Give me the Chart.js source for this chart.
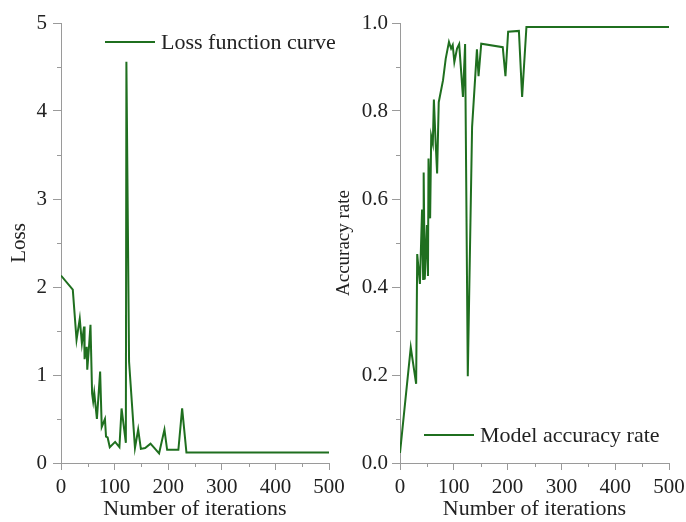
<!DOCTYPE html>
<html>
<head>
<meta charset="utf-8">
<script src="https://cdn.jsdelivr.net/npm/chart.js@4"></script>
<style>
  html, body { margin: 0; padding: 0; background: #fff; }
  body { width: 686px; height: 522px; position: relative; overflow: hidden; }
  canvas { position: absolute; top: 0; }
  #lossChart { left: 0; }
  #accChart { left: 325px; }
</style>
</head>
<body>
<canvas id="lossChart" width="352" height="522"></canvas>
<canvas id="accChart" width="361" height="522"></canvas>
<script>
// loss curve (left panel)
const lossIter = [0, 22, 29, 35, 39, 43, 44, 48, 49, 52, 55, 58, 60, 62, 67, 73, 76, 82, 84, 87,
    91, 101, 109, 113, 121, 122, 127, 138, 144, 149, 157, 167, 183, 193, 198, 219, 226, 234, 500];
const lossVal = [2.13, 1.97, 1.40, 1.64, 1.36, 1.55, 1.18, 1.32, 1.06, 1.30, 1.57, 0.79, 0.70, 0.80, 0.50, 1.04, 0.41, 0.50, 0.30, 0.29,
    0.18, 0.24, 0.18, 0.62, 0.23, 4.56, 1.15, 0.17, 0.38, 0.16, 0.17, 0.22, 0.11, 0.38, 0.15, 0.15, 0.62, 0.12, 0.12];

// accuracy curve (right panel)
const accIter = [0, 20, 30, 32, 37, 41, 43, 44, 46, 50, 52, 53, 56, 58, 61, 63, 66, 69, 72, 80,
    85, 91, 95, 98, 101, 106, 110, 117, 121, 126, 134, 143, 146, 151, 191, 196, 201, 221, 227, 235, 500];
const accVal = [0.023, 0.263, 0.18, 0.475, 0.407, 0.576, 0.418, 0.66, 0.417, 0.541, 0.425, 0.692, 0.556, 0.743, 0.726, 0.826, 0.734, 0.658, 0.82, 0.87,
    0.919, 0.957, 0.942, 0.95, 0.911, 0.942, 0.952, 0.832, 0.952, 0.197, 0.764, 0.94, 0.879, 0.953, 0.945, 0.879, 0.98, 0.982, 0.832, 0.991, 0.991];

const xTicks = [0, 100, 200, 300, 400, 500];
const lossTicks = [0, 1, 2, 3, 4, 5];
const accTicks = [0, 0.2, 0.4, 0.6, 0.8, 1.0];

const LINE_COLOR = "#1f6f1f";
const AXIS_COLOR = "#9a9a9a";
const SERIF = "'Liberation Serif', 'Times New Roman', serif";

Chart.defaults.font.family = SERIF;
Chart.defaults.font.size = 21;
Chart.defaults.color = "#222";

// short ticks halfway between the labelled ones
const minorTicks = {
    id: "minorTicks",
    afterDraw(chart, args, opts) {
        const { ctx, scales: { x, y } } = chart;
        ctx.save();
        ctx.strokeStyle = AXIS_COLOR;
        ctx.lineWidth = 1;
        ctx.beginPath();
        for (let v = opts.xStep / 2; v < x.max; v += opts.xStep) {
            const px = Math.round(x.getPixelForValue(v)) + 0.5;
            ctx.moveTo(px, y.bottom);
            ctx.lineTo(px, y.bottom + 4);
        }
        for (let v = opts.yStep / 2; v < y.max; v += opts.yStep) {
            const py = Math.round(y.getPixelForValue(v)) + 0.5;
            ctx.moveTo(x.left - 4, py);
            ctx.lineTo(x.left, py);
        }
        ctx.stroke();
        ctx.restore();
    }
};

// legend drawn inside the plot area
const innerLegend = {
    id: "innerLegend",
    afterDraw(chart, args, opts) {
        const { ctx, chartArea } = chart;
        const x0 = chartArea.left + opts.dx;
        const y0 = opts.fromBottom ? chartArea.bottom - opts.dy : chartArea.top + opts.dy;
        ctx.save();
        ctx.strokeStyle = LINE_COLOR;
        ctx.lineWidth = 2;
        ctx.beginPath();
        ctx.moveTo(x0, y0);
        ctx.lineTo(x0 + 50, y0);
        ctx.stroke();
        ctx.fillStyle = "#222";
        ctx.font = "22px " + SERIF;
        ctx.textBaseline = "middle";
        ctx.fillText(chart.data.datasets[0].label, x0 + 56, y0 + 1);
        ctx.restore();
    }
};

function makeChart(id, cfg) {
    const points = cfg.xs.map((x, i) => ({ x: x, y: cfg.ys[i] }));
    return new Chart(document.getElementById(id), {
        type: "line",
        data: {
            datasets: [{
                label: cfg.label,
                data: points,
                borderColor: LINE_COLOR,
                borderWidth: 2,
                pointRadius: 0,
                tension: 0,
                fill: false
            }]
        },
        options: {
            responsive: false,
            animation: false,
            devicePixelRatio: 1,
            layout: { padding: { left: 0, top: 23, right: cfg.padRight, bottom: 0 } },
            plugins: {
                legend: { display: false },
                tooltip: { enabled: false },
                minorTicks: { xStep: 100, yStep: cfg.yTicks[1] - cfg.yTicks[0] },
                innerLegend: cfg.legend
            },
            scales: {
                x: {
                    type: "linear",
                    min: 0,
                    max: 500,
                    afterBuildTicks: s => { s.ticks = xTicks.map(v => ({ value: v })); },
                    afterFit: s => { s.height = 59; s.paddingLeft = 0; s.paddingRight = 0; },
                    border: { color: AXIS_COLOR, width: 1 },
                    grid: { drawOnChartArea: false, color: AXIS_COLOR, tickLength: 7 },
                    ticks: { padding: 5, maxRotation: 0, autoSkip: false },
                    title: {
                        display: true, text: "Number of iterations",
                        font: { size: 22 }, padding: { top: 0, bottom: 0 }
                    }
                },
                y: {
                    min: 0,
                    max: cfg.yTicks[cfg.yTicks.length - 1],
                    afterBuildTicks: s => { s.ticks = cfg.yTicks.map(v => ({ value: v })); },
                    afterFit: s => { s.width = cfg.yWidth; s.paddingTop = 0; s.paddingBottom = 0; },
                    border: { color: AXIS_COLOR, width: 1 },
                    grid: { drawOnChartArea: false, color: AXIS_COLOR, tickLength: 8 },
                    ticks: {
                        padding: cfg.tickPad,
                        autoSkip: false,
                        callback: v => cfg.digits ? v.toFixed(cfg.digits) : String(v)
                    },
                    title: {
                        display: true, text: cfg.yTitle,
                        font: { size: cfg.titleSize }, padding: { top: cfg.titlePad, bottom: 0 }
                    }
                }
            }
        },
        plugins: [minorTicks, innerLegend]
    });
}

makeChart("lossChart", {
    xs: lossIter, ys: lossVal, yTicks: lossTicks, digits: 0,
    label: "Loss function curve", yTitle: "Loss", titleSize: 21,
    yWidth: 61, padRight: 23, tickPad: 6, titlePad: 7,
    legend: { dx: 44, dy: 19, fromBottom: false }
});

makeChart("accChart", {
    xs: accIter, ys: accVal, yTicks: accTicks, digits: 1,
    label: "Model accuracy rate", yTitle: "Accuracy rate", titleSize: 19,
    yWidth: 75, padRight: 17, tickPad: 4, titlePad: 8,
    legend: { dx: 24, dy: 28, fromBottom: true }
});
</script>
</body>
</html>
